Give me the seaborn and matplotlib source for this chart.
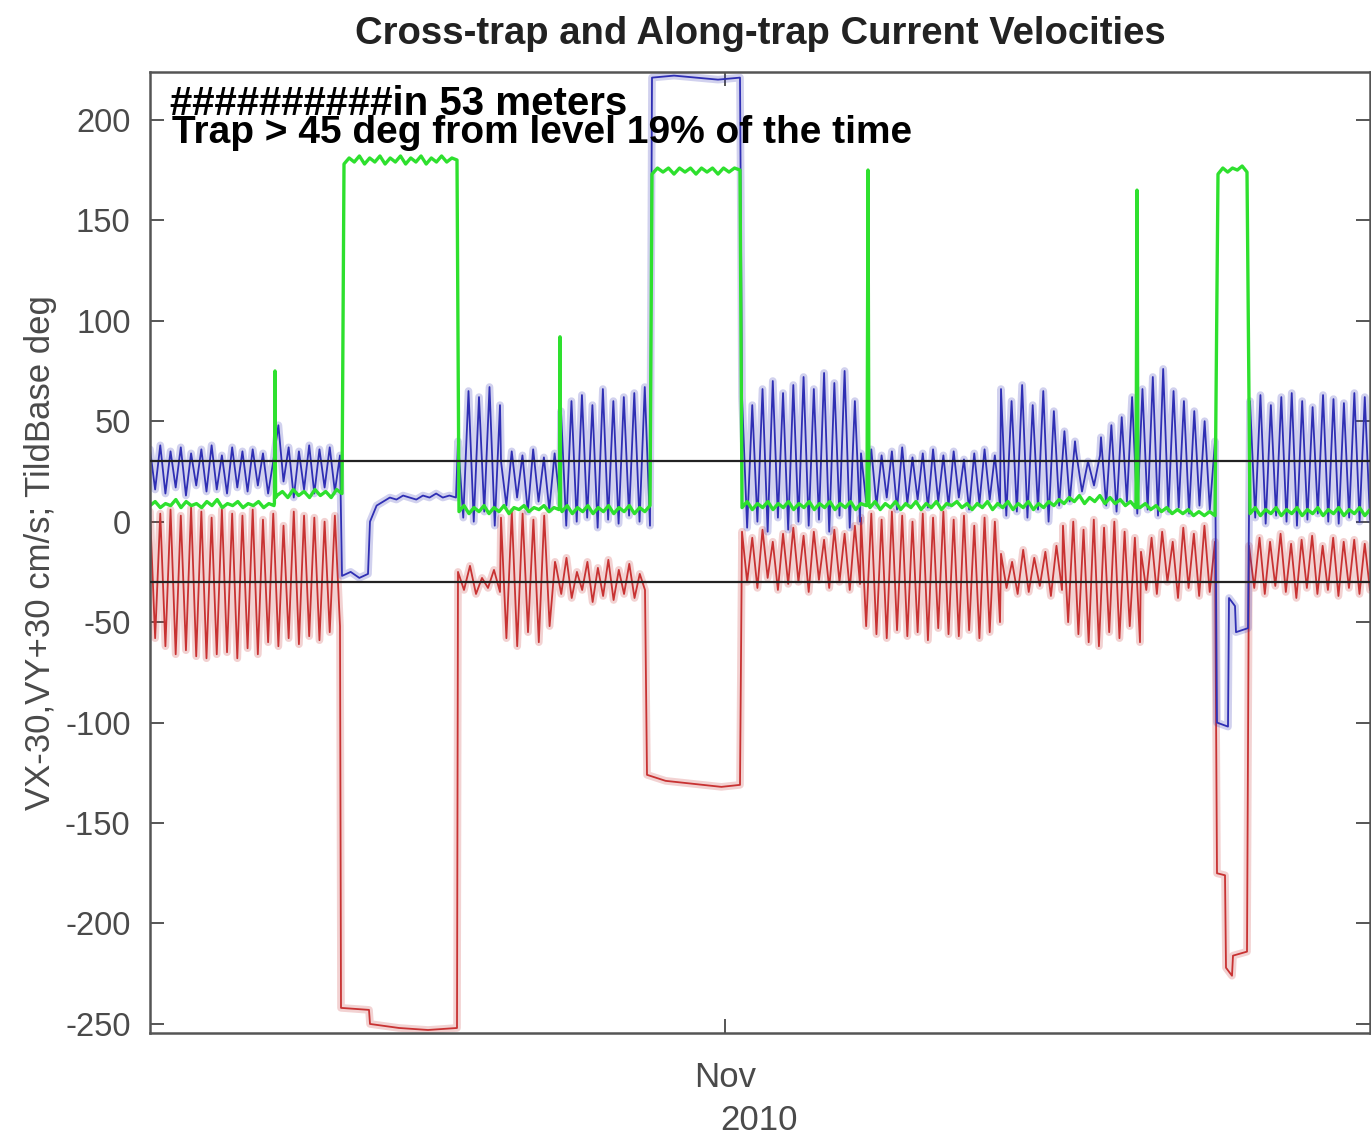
import numpy as np
import pandas as pd
import matplotlib
matplotlib.use("Agg")
import matplotlib.pyplot as plt
import matplotlib.dates as mdates
import seaborn as sns

# ---------------- data ----------------
START = "2010-10-03 06:00"          # left edge of the record
END_DAYS = 61.0                      # record length in days
YEAR_LABEL = "2010"
X_TICK_DATES = ["2010-11-01"]
X_TICK_LABELS = ["Nov"]
Y_TICKS = [-250, -200, -150, -100, -50, 0, 50, 100, 150, 200]
Y_LIMITS = (-254.5, 223.8)
REF_LEVELS = [30, -30]

TITLE = "Cross-trap and Along-trap Current Velocities"
Y_LABEL = "VX-30,VY+30 cm/s; TildBase deg"
NOTE_1 = "##########in 53 meters"
NOTE_2 = "Trap > 45 deg from level 19% of the time"

# VX-30 (red): spans in days from START and values in each span
vx_spans = [(0, 9.5), (9.55, 10.95), (11.0, 15.35), (15.4, 17.5), (17.55, 20.25),
            (20.3, 24.75), (24.85, 29.5), (29.6, 35.5), (35.55, 42.5), (42.55, 45.6),
            (45.65, 49.5), (49.55, 53.25), (53.35, 53.75), (53.8, 54.1), (54.15, 54.85),
            (54.95, 61.0)]
vx_01 = [5, -58, 4, -62, 6, -66, 3, -64, 7, -67, 5, -68, 2, -66, 6, -65, 4, -68, 3, -63,
         6, -66, 1, -60, 4, -62, -2, -58, 5, -61, 3, -57, 2, -59, 0, -55, 3, -52]
vx_02 = [-242, -243]
vx_03 = [-250, -252, -253, -252]
vx_04 = [-25, -34, -22, -36, -28, -33, -24, -35]
vx_05 = [2, -58, 5, -62, 4, -55, 1, -60, 3, -52, -20]
vx_06 = [-22, -36, -18, -38, -25, -34, -20, -40, -23, -37, -19, -39, -24, -36, -21, -38, -26, -34]
vx_07 = [-126, -129, -130, -131, -132, -131]
vx_08 = [-5, -30, -8, -33, -4, -28, -10, -34, -6, -31, -3, -30, -7, -35, -5, -29, -9, -33,
         -4, -30, -6, -34, -2, -31]
vx_09 = [2, -52, 4, -56, 1, -58, 5, -54, 3, -57, 0, -55, 4, -59, 2, -53, 5, -56, 1, -57,
         3, -54, -2, -58, 2, -55, 0, -50]
vx_10 = [-16, -33, -20, -36, -14, -35, -18, -32, -15, -37, -12, -34]
vx_11 = [-2, -50, 0, -56, -4, -60, 1, -62, -3, -55, 0, -58, -5, -52, -8, -60]
vx_12 = [-15, -34, -8, -36, -5, -30, -10, -38, -3, -33, -6, -37, -2, -35, -10]
vx_13 = [-175, -176]
vx_14 = [-222, -226]
vx_15 = [-216, -214]
vx_16 = [-12, -33, -8, -36, -10, -32, -6, -35, -11, -38, -9, -33, -7, -36, -12, -34,
         -8, -37, -10, -33, -9, -36, -11, -34]
vx_parts = [vx_01, vx_02, vx_03, vx_04, vx_05, vx_06, vx_07, vx_08, vx_09, vx_10,
            vx_11, vx_12, vx_13, vx_14, vx_15, vx_16]

# VY+30 (blue)
vy_spans = [(0, 9.5), (9.6, 10.9), (11.0, 15.3), (15.4, 17.5), (17.55, 20.5),
            (20.55, 25.0), (25.1, 29.5), (29.6, 35.5), (35.55, 42.5), (42.55, 46.25),
            (46.3, 47.5), (47.55, 53.25), (53.35, 53.9), (53.95, 54.25), (54.3, 54.9),
            (55.0, 61.0)]
vy_01 = [36, 16, 38, 14, 35, 17, 37, 13, 34, 18, 36, 15, 38, 16, 33, 14, 37, 17, 35, 15,
         36, 18, 34, 14, 30, 48, 20, 37, 12, 35, 16, 38, 14, 36, 17, 37, 15, 33]
vy_02 = [-27, -25, -28, -26]
vy_03 = [0, 8, 10, 12, 11, 13, 12, 11, 13, 12, 14, 12, 13, 12]
vy_04 = [40, 2, 65, 0, 62, 5, 67, -2, 58]
vy_05 = [30, 8, 35, 12, 33, 5, 36, 10, 32, 6, 34, 9]
vy_06 = [55, -2, 60, 0, 63, 2, 58, -3, 66, 1, 60, -1, 62, 3, 64, 0, 67, -2]
vy_07 = [221, 222, 221, 220, 221]
vy_08 = [62, -3, 58, 0, 66, -5, 70, 2, 64, -4, 68, 0, 72, -2, 66, 1, 74, -5, 69, 3,
         75, -3, 60, 0]
vy_09 = [34, 10, 36, 8, 33, 12, 35, 6, 37, 9, 32, 11, 34, 7, 36, 10, 33, 8, 35, 12,
         31, 6, 34, 9, 36, 11, 33, 8]
vy_10 = [66, 3, 60, 5, 68, 2, 58, 6, 65, 0, 55, 8, 45, 10, 40]
vy_11 = [35, 15, 30, 18, 33]
vy_12 = [42, 8, 48, 5, 52, 10, 62, 4, 66, 6, 72, 3, 76, 5, 65, 7, 60, 4, 55, 8, 50, 6, 40]
vy_13 = [-100, -102]
vy_14 = [-38, -42]
vy_15 = [-55, -53]
vy_16 = [60, 2, 63, -1, 58, 3, 62, 0, 64, -2, 60, 1, 57, 4, 63, 0, 61, -1, 59, 2,
         64, 0, 62, 1]
vy_parts = [vy_01, vy_02, vy_03, vy_04, vy_05, vy_06, vy_07, vy_08, vy_09, vy_10,
            vy_11, vy_12, vy_13, vy_14, vy_15, vy_16]

# Tilt of trap base in degrees (green)
tilt_spans = [(0, 6.2), (6.22, 6.28), (6.35, 9.6), (9.7, 15.35), (15.45, 20.45),
              (20.47, 20.53), (20.6, 25.0), (25.1, 29.5), (29.6, 35.8), (35.85, 35.95),
              (36.0, 49.28), (49.3, 49.4), (49.5, 53.25), (53.4, 54.85), (55.0, 61.0)]
tilt_01 = [8, 10, 7, 9, 8, 11, 7, 10, 8, 9, 7, 10, 8, 11, 7, 9, 8, 10, 7, 9, 8, 10, 7, 9, 8]
tilt_02 = [9, 75, 12]
tilt_03 = [13, 15, 12, 16, 13, 15, 12, 16, 13, 15, 12, 16, 14]
tilt_04 = [178, 181, 179, 182, 178, 181, 179, 182, 178, 181, 179, 182, 178, 181, 179,
           182, 178, 181, 179, 182, 179, 181, 180]
tilt_05 = [5, 8, 4, 7, 5, 8, 4, 7, 5, 8, 4, 7, 6, 8, 5, 7, 6, 8, 5, 7, 6]
tilt_06 = [7, 92, 7]
tilt_07 = [5, 8, 4, 7, 5, 8, 4, 7, 5, 8, 4, 7, 5, 8, 4, 7, 5, 8]
tilt_08 = [173, 176, 174, 176, 173, 176, 174, 176, 173, 176, 174, 176, 173, 176, 174, 176, 175]
tilt_09 = [7, 10, 6, 9, 7, 10, 6, 9, 7, 10, 6, 9, 7, 10, 6, 9, 7, 10, 6, 9, 7, 10, 6, 9, 8]
tilt_10 = [8, 175, 8]
tilt_11 = [7, 10, 6, 9, 7, 10, 6, 9, 7, 10, 6, 9, 7, 10, 6, 9, 8, 10, 7, 9,
           6, 9, 7, 10, 6, 9, 7, 10, 6, 9, 7, 10, 6, 9, 7, 10, 8, 11, 9, 12,
           10, 13, 9, 12, 10, 13, 9, 12, 9, 11, 8, 10, 7]
tilt_12 = [7, 165, 7]
tilt_13 = [7, 9, 6, 8, 5, 7, 4, 6, 4, 6, 3, 5, 3, 5, 3]
tilt_14 = [173, 176, 174, 176, 175, 177, 174]
tilt_15 = [4, 7, 3, 6, 4, 7, 3, 6, 4, 7, 3, 6, 4, 7, 3, 6, 4, 7, 3, 6, 4, 7, 3, 6]
tilt_parts = [tilt_01, tilt_02, tilt_03, tilt_04, tilt_05, tilt_06, tilt_07, tilt_08,
              tilt_09, tilt_10, tilt_11, tilt_12, tilt_13, tilt_14, tilt_15]


# ---------------- build ----------------
def series(spans, parts):
    days = np.concatenate([np.linspace(a, b, len(p)) for (a, b), p in zip(spans, parts)])
    vals = np.concatenate([np.asarray(p, dtype=float) for p in parts])
    times = pd.Timestamp(START) + pd.to_timedelta(days, unit="D")
    return pd.DataFrame({"time": times, "value": vals})


df_vx = series(vx_spans, vx_parts)
df_vy = series(vy_spans, vy_parts)
df_tilt = series(tilt_spans, tilt_parts)

sns.set_theme(style="white")
plt.rcParams["font.family"] = ["Liberation Sans", "DejaVu Sans"]

W, H = 1371, 1140
fig = plt.figure(figsize=(W / 100, H / 100), dpi=100)
fig.patch.set_facecolor("white")
ax = fig.add_axes([150 / W, 1 - 1033 / H, 1220 / W, (1033 - 72) / H])
ax.set_facecolor("white")

red, blue, green = "#c83232", "#2f2fb4", "#2ee02e"

for df, col in [(df_vx, red), (df_vy, blue)]:
    sns.lineplot(data=df, x="time", y="value", color=col, lw=5.5, alpha=0.22,
                 estimator=None, ax=ax, legend=False)
    sns.lineplot(data=df, x="time", y="value", color=col, lw=1.3,
                 estimator=None, ax=ax, legend=False)
sns.lineplot(data=df_tilt, x="time", y="value", color=green, lw=2.4,
             estimator=None, ax=ax, legend=False)

for lev in REF_LEVELS:
    ax.axhline(lev, color="#222222", lw=1.6, zorder=5)

t0 = pd.Timestamp(START)
ax.set_xlim(mdates.date2num(t0), mdates.date2num(t0 + pd.Timedelta(days=END_DAYS)))
ax.set_ylim(*Y_LIMITS)
ax.set_xticks([mdates.date2num(pd.Timestamp(d)) for d in X_TICK_DATES])
ax.set_xticklabels(X_TICK_LABELS)
ax.set_yticks(Y_TICKS)
ax.set_yticklabels([str(v) for v in Y_TICKS])

ax.tick_params(axis="y", direction="in", length=10, width=1.4, left=True, right=True,
               labelsize=23.5, labelcolor="#4a4a4a", color="#555555", pad=14)
ax.tick_params(axis="x", direction="in", length=10, width=1.4, bottom=True, top=True,
               labelsize=25, labelcolor="#4a4a4a", color="#555555", pad=20)
for s in ax.spines.values():
    s.set_color("#555555")
    s.set_linewidth(1.8)
    s.set_visible(True)

ax.set_xlabel("")
ax.set_ylabel(Y_LABEL, fontsize=25, color="#4a4a4a", labelpad=6)
ax.set_title(TITLE, fontsize=27.5, fontweight="bold", color="#222222", pad=20)

ax.text(0.016, 0.955, NOTE_1, transform=ax.transAxes, fontsize=29, fontweight="bold",
        color="black", va="baseline", ha="left", zorder=10)
ax.text(0.018, 0.926, NOTE_2, transform=ax.transAxes, fontsize=28, fontweight="bold",
        color="black", va="baseline", ha="left", zorder=10)

fig.text(759 / W, 1 - 1120 / H, YEAR_LABEL, fontsize=25, color="#4a4a4a",
         ha="center", va="center")

fig.savefig("out.png", dpi=100, facecolor="white")
